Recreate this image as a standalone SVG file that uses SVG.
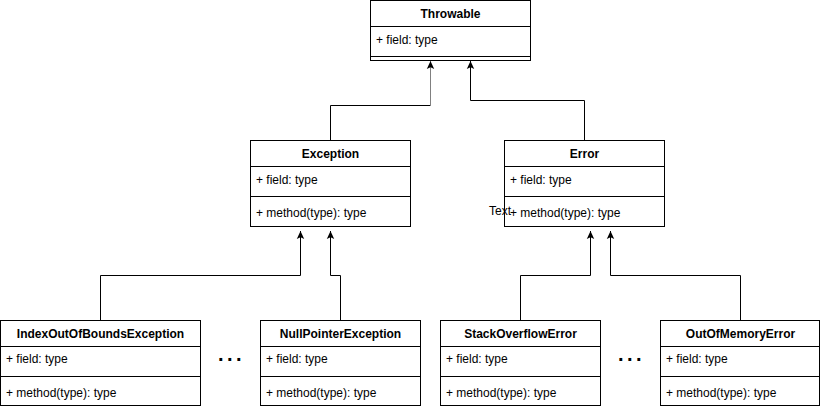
<svg xmlns="http://www.w3.org/2000/svg" width="821" height="410" viewBox="0 0 821 410">
<style>
.box{fill:#fff;stroke:#000;stroke-width:1}
.div{stroke:#000;stroke-width:1;fill:none}
.hd{font-family:"Liberation Sans",Arial,sans-serif;font-size:12px;font-weight:bold;text-anchor:middle;fill:#000}
.tx{font-family:"Liberation Sans",Arial,sans-serif;font-size:12px;fill:#000}
.dots{font-family:"Liberation Sans",Arial,sans-serif;font-size:20px;font-weight:bold;fill:#000;letter-spacing:3.4px}
.edge{fill:none;stroke:#000;stroke-width:1}
</style>
<defs>
<marker id="arr" markerUnits="userSpaceOnUse" markerWidth="10" markerHeight="10" viewBox="0 0 10 10" refX="8" refY="5" orient="auto">
<path d="M8,5 L0,1.3 L1.8,5 L0,8.7 Z" fill="#000"/>
</marker>
</defs>
<rect width="821" height="410" fill="#fff"/>
<g id="connectors">
<path class="edge" d="M330.5,140 V105.5 H430.5"/>
<path d="M430.5,105.5 V61" fill="none" stroke="#808080" stroke-width="1" marker-end="url(#arr)"/>
<path class="edge" d="M584.5,140 V100.5 H470.5 V61" marker-end="url(#arr)"/>
<path class="edge" d="M100.5,320 V275.5 H300.5 V231" marker-end="url(#arr)"/>
<path class="edge" d="M340.5,320 V275.5 H330.5 V231" marker-end="url(#arr)"/>
<path class="edge" d="M520.5,320 V275.5 H590.5 V231" marker-end="url(#arr)"/>
<path class="edge" d="M740.5,320 V275.5 H610.5 V231" marker-end="url(#arr)"/>
</g>
<g id="throwable">
<rect class="box" x="370.5" y="0.5" width="160" height="60"/>
<path class="div" d="M370.5,26.5 H530.5 M370.5,56.5 H530.5"/>
<text class="hd" x="450.5" y="18">Throwable</text>
<text class="tx" x="376" y="44">+ field: type</text>
</g>
<g id="exception">
<rect class="box" x="250.5" y="140.5" width="160" height="86"/>
<path class="div" d="M250.5,166.5 H410.5 M250.5,196.5 H410.5"/>
<text class="hd" x="330.5" y="158">Exception</text>
<text class="tx" x="256" y="184">+ field: type</text>
<text class="tx" x="256" y="217">+ method(type): type</text>
</g>
<g id="error">
<rect class="box" x="504.5" y="140.5" width="160" height="86"/>
<path class="div" d="M504.5,166.5 H664.5 M504.5,196.5 H664.5"/>
<text class="hd" x="584.5" y="158">Error</text>
<text class="tx" x="510" y="184">+ field: type</text>
<text class="tx" x="510" y="217">+ method(type): type</text>
</g>
<g id="text-label">
<text class="tx" x="489" y="215">Text</text>
</g>
<g id="ioobe">
<rect class="box" x="0.5" y="320.5" width="200" height="85"/>
<path class="div" d="M0.5,346.5 H200.5 M0.5,376.5 H200.5"/>
<text class="hd" x="100.5" y="338">IndexOutOfBoundsException</text>
<text class="tx" x="6" y="363">+ field: type</text>
<text class="tx" x="6" y="397">+ method(type): type</text>
</g>
<g id="npe">
<rect class="box" x="260.5" y="320.5" width="160" height="85"/>
<path class="div" d="M260.5,346.5 H420.5 M260.5,376.5 H420.5"/>
<text class="hd" x="340.5" y="338">NullPointerException</text>
<text class="tx" x="266" y="363">+ field: type</text>
<text class="tx" x="266" y="397">+ method(type): type</text>
</g>
<g id="soe">
<rect class="box" x="440.5" y="320.5" width="160" height="85"/>
<path class="div" d="M440.5,346.5 H600.5 M440.5,376.5 H600.5"/>
<text class="hd" x="520.5" y="338">StackOverflowError</text>
<text class="tx" x="446" y="363">+ field: type</text>
<text class="tx" x="446" y="397">+ method(type): type</text>
</g>
<g id="oome">
<rect class="box" x="660.5" y="320.5" width="159" height="85"/>
<path class="div" d="M660.5,346.5 H819.5 M660.5,376.5 H819.5"/>
<text class="hd" x="740.5" y="338">OutOfMemoryError</text>
<text class="tx" x="666" y="363">+ field: type</text>
<text class="tx" x="666" y="397">+ method(type): type</text>
</g>
<g id="ellipsis-1"><text class="dots" x="218" y="361">...</text></g>
<g id="ellipsis-2"><text class="dots" x="618" y="361">...</text></g>
</svg>
